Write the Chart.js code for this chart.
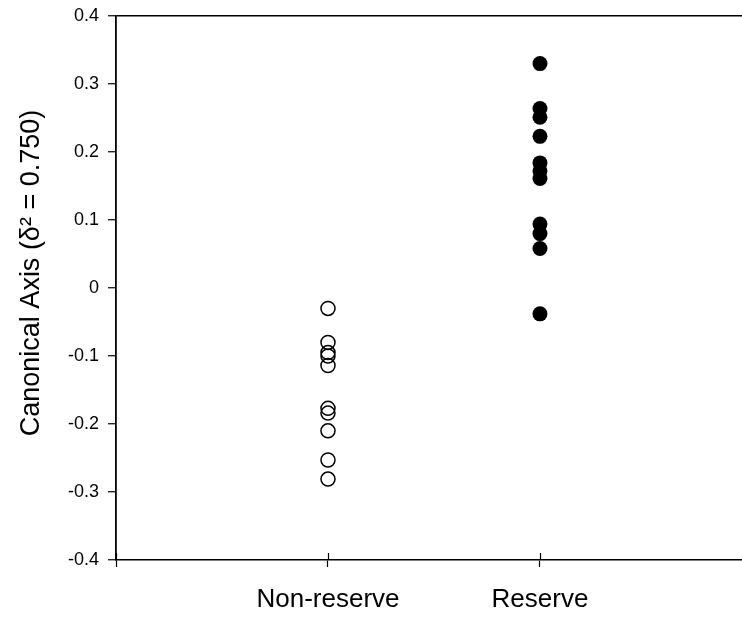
<!DOCTYPE html>
<html lang="en">
<head>
  <meta charset="UTF-8" />
  <title>Canonical Axis</title>
  <script src="https://cdn.jsdelivr.net/npm/chart.js"></script>
  <style>
    html, body { margin: 0; padding: 0; background: #fff; }
    #wrap { width: 742px; height: 630px; }
  </style>
</head>
<body>
  <div id="wrap"><canvas id="chart" width="742" height="630"></canvas></div>
  <script>
    // group names, placed at x = 1, 2
    const categories = ["Non-reserve", "Reserve"];
    const nonReserve = [-0.030, -0.080, -0.095, -0.100, -0.114, -0.177, -0.184, -0.210, -0.253, -0.281];
    const reserve = [0.330, 0.264, 0.251, 0.223, 0.184, 0.172, 0.161, 0.094, 0.080, 0.058, -0.038];
    const yTicks = [-0.4, -0.3, -0.2, -0.1, 0, 0.1, 0.2, 0.3, 0.4];

    const font = '"Liberation Sans", Arial, sans-serif';

    // short tick marks on the inside of the x axis (Excel style cross ticks)
    const crossTicks = {
      id: 'crossTicks',
      afterDraw(chart) {
        const x = chart.scales.x, ctx = chart.ctx;
        ctx.save();
        ctx.strokeStyle = '#000';
        ctx.lineWidth = 1.2;
        x.ticks.forEach(t => {
          const px = Math.round(x.getPixelForValue(t.value)) + 0.5;
          ctx.beginPath();
          ctx.moveTo(px, x.top);
          ctx.lineTo(px, x.top - 7);
          ctx.stroke();
        });
        ctx.restore();
      }
    };

    new Chart(document.getElementById('chart'), {
      type: 'scatter',
      data: {
        datasets: [{
          label: categories[0],
          data: nonReserve.map(v => ({ x: 1, y: v })),
          pointRadius: 7,
          pointBackgroundColor: 'rgba(255,255,255,0)',
          pointBorderColor: '#000',
          pointBorderWidth: 1.5
        }, {
          label: categories[1],
          data: reserve.map(v => ({ x: 2, y: v })),
          pointRadius: 7.5,
          pointBackgroundColor: '#000',
          pointBorderColor: '#000',
          pointBorderWidth: 0
        }]
      },
      options: {
        responsive: false,
        animation: false,
        layout: { autoPadding: false, padding: { top: 16, right: 0, left: 0, bottom: 0 } },
        plugins: {
          legend: { display: false },
          tooltip: { enabled: false }
        },
        scales: {
          x: {
            type: 'linear',
            min: 0,
            max: 2.953,
            afterBuildTicks: s => { s.ticks = [0, 1, 2].map(v => ({ value: v })); },
            afterFit: s => { s.height = 70; s.paddingLeft = 0; s.paddingRight = 0; },
            border: { display: true, color: '#000', width: 1.5 },
            grid: { color: 'rgba(0,0,0,0)', tickColor: '#000', tickLength: 7, tickWidth: 1.2 },
            ticks: {
              padding: 17,
              color: '#000',
              font: { family: font, size: 26 },
              maxRotation: 0,
              autoSkip: false,
              callback: v => categories[v - 1] || ''
            }
          },
          y: {
            min: -0.4,
            max: 0.4,
            afterBuildTicks: s => { s.ticks = yTicks.map(v => ({ value: v })); },
            afterFit: s => { s.width = 116; s.paddingTop = 0; s.paddingBottom = 0; },
            border: { display: true, color: '#000', width: 1.8 },
            grid: {
              color: c => (c.tick && c.tick.value === 0.4) ? '#000' : 'rgba(0,0,0,0)',
              lineWidth: 1.5,
              tickColor: '#000',
              tickLength: 8,
              tickWidth: 1.2
            },
            title: {
              display: true,
              text: '    Canonical Axis (\u03B4\u00B2 = 0.750)',
              color: '#000',
              font: { family: font, size: 27 },
              padding: { top: 15, bottom: 0 }
            },
            ticks: {
              padding: 9,
              color: '#000',
              font: { family: font, size: 18 },
              callback: v => (Math.round(v * 10) / 10).toString()
            }
          }
        }
      },
      plugins: [crossTicks]
    });
  </script>
</body>
</html>
